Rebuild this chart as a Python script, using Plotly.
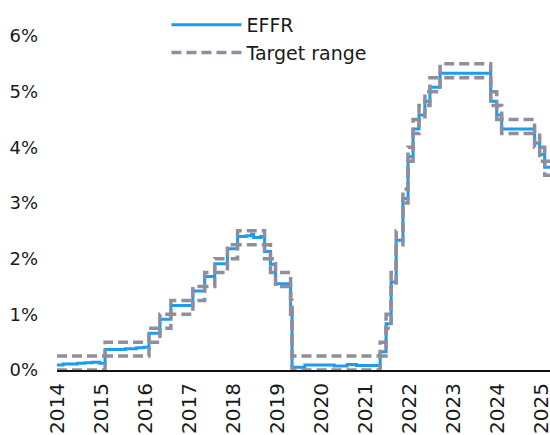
import plotly.graph_objects as go

# Effective federal funds rate (EFFR), % (step changes / readings)
effr_dates = ["2014-11-13", "2015-01-02", "2015-03-02", "2015-05-01", "2015-07-01", "2015-09-01",
              "2015-11-02", "2015-12-17", "2016-03-01", "2016-06-01", "2016-09-01", "2016-11-01",
              "2016-12-15", "2017-03-16", "2017-06-15", "2017-12-14", "2018-03-22", "2018-06-14",
              "2018-09-27", "2018-12-20", "2019-03-01", "2019-04-15", "2019-05-02", "2019-07-01",
              "2019-08-01", "2019-09-19", "2019-10-31", "2020-03-04", "2020-03-16", "2020-05-01",
              "2020-07-01", "2020-10-01", "2021-01-04", "2021-03-01", "2021-06-17", "2021-09-01",
              "2022-03-17", "2022-05-05", "2022-06-16", "2022-07-28", "2022-09-22", "2022-11-03",
              "2022-12-15", "2023-02-02", "2023-03-23", "2023-05-04", "2023-07-27", "2024-09-19",
              "2024-11-08", "2024-12-19", "2025-09-18", "2025-10-30", "2025-12-11", "2026-01-24"]
effr_values = [0.09, 0.11, 0.11, 0.12, 0.13, 0.14,
               0.12, 0.37, 0.37, 0.38, 0.40, 0.41,
               0.66, 0.91, 1.16, 1.42, 1.68, 1.91,
               2.18, 2.40, 2.41, 2.44, 2.38, 2.40,
               2.13, 1.90, 1.55, 1.10, 0.05, 0.05,
               0.09, 0.09, 0.09, 0.07, 0.10, 0.08,
               0.33, 0.83, 1.58, 2.33, 3.08, 3.83,
               4.33, 4.58, 4.83, 5.08, 5.33, 4.83,
               4.58, 4.33, 4.08, 3.87, 3.64, 3.64]

# Fed funds target range (lower / upper bound), %
target_dates = ["2014-11-13", "2015-12-17", "2016-12-15", "2017-03-16", "2017-06-15", "2017-12-14",
                "2018-03-22", "2018-06-14", "2018-09-27", "2018-12-20", "2019-08-01", "2019-09-19",
                "2019-10-31", "2020-03-04", "2020-03-16", "2022-03-17", "2022-05-05", "2022-06-16",
                "2022-07-28", "2022-09-22", "2022-11-03", "2022-12-15", "2023-02-02", "2023-03-23",
                "2023-05-04", "2023-07-27", "2024-09-19", "2024-11-08", "2024-12-19", "2025-09-18",
                "2025-10-30", "2025-12-11", "2026-01-24"]
target_lower = [0.00, 0.25, 0.50, 0.75, 1.00, 1.25,
                1.50, 1.75, 2.00, 2.25, 2.00, 1.75,
                1.50, 1.00, 0.00, 0.25, 0.75, 1.50,
                2.25, 3.00, 3.75, 4.25, 4.50, 4.75,
                5.00, 5.25, 4.75, 4.50, 4.25, 4.00,
                3.75, 3.50, 3.50]
target_upper = [0.25, 0.50, 0.75, 1.00, 1.25, 1.50,
                1.75, 2.00, 2.25, 2.50, 2.25, 2.00,
                1.75, 1.25, 0.25, 0.50, 1.00, 1.75,
                2.50, 3.25, 4.00, 4.50, 4.75, 5.00,
                5.25, 5.50, 5.00, 4.75, 4.50, 4.25,
                4.00, 3.75, 3.75]

# x-axis ticks
tick_dates = ["2014-11-13", "2015-11-13", "2016-11-13", "2017-11-13", "2018-11-13", "2019-11-13",
              "2020-11-13", "2021-11-13", "2022-11-13", "2023-11-13", "2024-11-13", "2025-11-13"]
tick_labels = ["2014", "2015", "2016", "2017", "2018", "2019",
               "2020", "2021", "2022", "2023", "2024", "2025"]
y_ticks = [0, 1, 2, 3, 4, 5, 6]
y_labels = ["0%", "1%", "2%", "3%", "4%", "5%", "6%"]

BLUE = "#1C9CF0"
GREY = "#908E9D"
FONT = "DejaVu Sans"

fig = go.Figure()
fig.add_trace(go.Scatter(
    x=effr_dates, y=effr_values, mode="lines", name="EFFR",
    line=dict(color=BLUE, width=3, shape="hv"),
))
fig.add_trace(go.Scatter(
    x=target_dates + [None] + target_dates,
    y=target_upper + [None] + target_lower,
    mode="lines", name="Target range", connectgaps=False,
    line=dict(color=GREY, width=3.5, dash="10px,5px", shape="hv"),
))

fig.update_layout(
    width=550, height=435,
    margin=dict(l=57, r=0, t=36, b=65, autoexpand=False),
    paper_bgcolor="white", plot_bgcolor="white",
    font=dict(family=FONT, size=18, color="#1a1a1a"),
    showlegend=True,
    legend=dict(x=0.222, y=1.09, xanchor="left", yanchor="top",
                bgcolor="rgba(0,0,0,0)", font=dict(family=FONT, size=19, color="#1a1a1a"),
                itemwidth=70, tracegroupgap=7),
    xaxis=dict(type="date", range=["2014-11-13", "2026-01-24"],
               tickmode="array", tickvals=tick_dates, ticktext=tick_labels,
               tickangle=-90, tickfont=dict(family=FONT, size=20, color="#1a1a1a"),
               ticklabeloverflow="allow", ticklabelstandoff=3,
               showgrid=False, zeroline=False, showline=True, linecolor="#111111",
               linewidth=2, ticks="", layer="below traces", automargin=False),
    yaxis=dict(range=[0, 6], tickmode="array", tickvals=y_ticks, ticktext=y_labels,
               showgrid=False, zeroline=False, showline=False, ticks="",
               ticklabelstandoff=18,
               tickfont=dict(family=FONT, size=18, color="#1a1a1a"), automargin=False),
)

fig.write_html("out.html", config={"displayModeBar": False},
               post_script="document.body.style.margin='0';document.body.style.overflow='hidden';")
